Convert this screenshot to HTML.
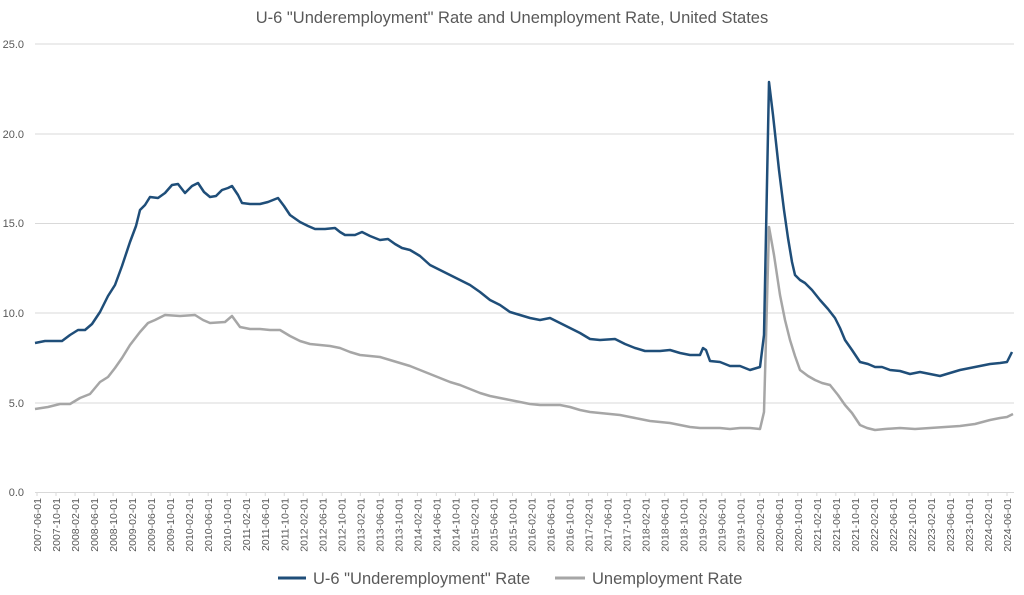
<!DOCTYPE html>
<html><head><meta charset="utf-8"><style>
body{margin:0;background:#fff;}
svg{display:block;font-family:"Liberation Sans",sans-serif;}
</style></head><body>
<svg width="1024" height="595" viewBox="0 0 1024 595">
<text x="512" y="23" text-anchor="middle" font-size="16.5" fill="#595959">U-6 "Underemployment" Rate and Unemployment Rate, United States</text>
<g stroke="#d9d9d9" stroke-width="1">
<line x1="35" x2="1014" y1="44" y2="44"/>
<line x1="35" x2="1014" y1="134" y2="134"/>
<line x1="35" x2="1014" y1="223.5" y2="223.5"/>
<line x1="35" x2="1014" y1="313" y2="313"/>
<line x1="35" x2="1014" y1="403" y2="403"/>
<line x1="35" x2="1014" y1="492.5" y2="492.5"/>
</g>
<g font-size="11" fill="#595959" text-anchor="end">
<text x="24" y="48">25.0</text><text x="24" y="138">20.0</text><text x="24" y="227">15.0</text>
<text x="24" y="317">10.0</text><text x="24" y="407">5.0</text><text x="24" y="496">0.0</text>
</g>
<g id="xl" font-size="10.5" fill="#595959"></g>
<polyline fill="none" stroke="#a6a6a6" stroke-width="2.5" stroke-linejoin="round" points="35,409 48,407 60,404 70,404 80,398 90,394 100,382 108,377 115,368 122,358 130,345 140,332 148,323 155,320 165,315 180,316 195,315 203,320 210,323 225,322 232,316 240,327 250,329 260,329 270,330 280,330 290,336 300,341 310,344 320,345 330,346 340,348 350,352 360,355 370,356 380,357 390,360 400,363 410,366 420,370 430,374 440,378 450,382 460,385 470,389 480,393 490,396 500,398 510,400 520,402 530,404 540,405 550,405 560,405 570,407 580,410 590,412 600,413 610,414 620,415 630,417 640,419 650,421 660,422 670,423 680,425 690,427 700,428 710,428 720,428 730,429 740,428 750,428 760,429 764,412 769,227 774,255 780,295 785,320 790,340 795,356 800,370 808,376 815,380 822,383 830,385 838,395 845,405 852,413 860,425 867,428 875,430 885,429 900,428 915,429 930,428 945,427 960,426 975,424 990,420 1000,418 1007,417 1013,414"/>
<polyline fill="none" stroke="#1f4e79" stroke-width="2.5" stroke-linejoin="round" points="35,343 45,341 55,341 62,341 70,335 78,330 85,330 92,324 100,312 108,296 115,285 122,266 130,242 136,226 140,210 145,205 150,197 158,198 165,193 172,185 178,184 185,193 192,186 198,183 204,192 210,197 216,196 222,190 228,188 232,186 238,195 242,203 250,204 260,204 268,202 273,200 278,198 284,206 290,215 300,222 308,226 315,229 325,229 335,228 340,232 345,235 355,235 362,232 370,236 375,238 380,240 388,239 395,244 402,248 410,250 420,256 430,265 440,270 450,275 460,280 470,285 480,292 490,300 500,305 510,312 520,315 530,318 540,320 550,318 560,323 570,328 580,333 590,339 600,340 615,339 625,344 635,348 645,351 660,351 670,350 680,353 690,355 700,355 703,348 706,350 710,361 720,362 730,366 740,366 750,370 760,367 764,335 769,82 773,115 779,170 784,210 788,238 792,262 795,275 800,280 805,283 812,290 820,300 828,309 835,318 840,328 845,340 852,350 860,362 868,364 875,367 882,367 890,370 900,371 910,374 920,372 930,374 940,376 950,373 960,370 970,368 980,366 990,364 1000,363 1007,362 1012,352"/>
<line x1="278" x2="306" y1="578" y2="578" stroke="#1f4e79" stroke-width="3"/>
<text x="313" y="584" font-size="16.5" fill="#595959">U-6 "Underemployment" Rate</text>
<line x1="555" x2="585" y1="578" y2="578" stroke="#a6a6a6" stroke-width="3"/>
<text x="592" y="584" font-size="16.5" fill="#595959">Unemployment Rate</text>
</svg>
<script>
var g=document.getElementById('xl'),s='';
for(var i=0;i<52;i++){var m=6+i*4,y=2007+Math.floor((m-1)/12),mo=((m-1)%12)+1;
var x=37+i*19.02;
s+='<line x1="'+x+'" x2="'+x+'" y1="492" y2="496" stroke="#d9d9d9"/>';
s+='<text transform="translate('+(x+4)+',498) rotate(-90)" text-anchor="end">'+y+'-'+(mo<10?'0':'')+mo+'-01</text>';}
g.innerHTML=s;
</script>
</body></html>
